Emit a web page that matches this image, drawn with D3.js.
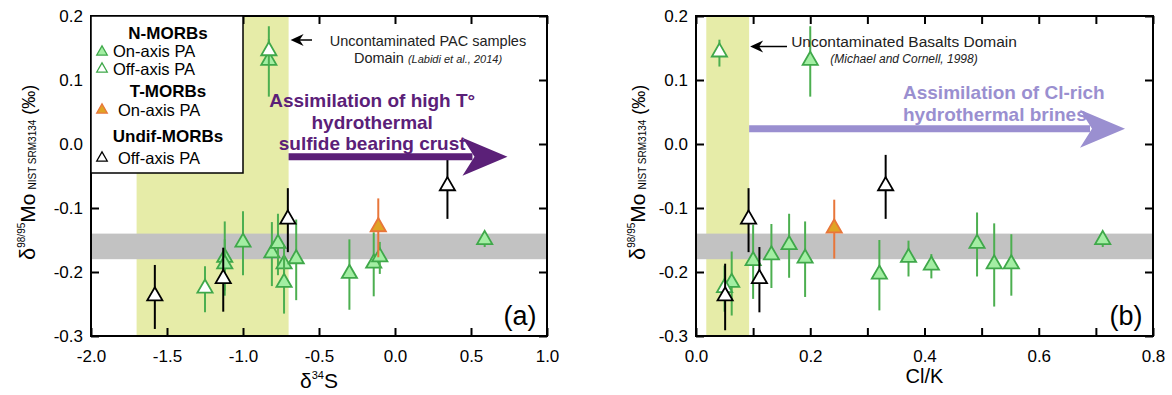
<!DOCTYPE html>
<html>
<head>
<meta charset="utf-8">
<script src="https://cdn.jsdelivr.net/npm/d3@7"></script>
<style>
  body { margin: 0; background: #fff; }
  svg { display: block; }
</style>
</head>
<body>
<svg id="chart" width="1172" height="395"></svg>
<script>
// values: [x, delta Mo, error]
// panel (a): d34S
var aNOn = [[-0.83, 0.129, 0.055], [-1.12, -0.179, 0.058], [-1.12, -0.189, 0.04], [-1.00, -0.155, 0.05],
            [-0.81, -0.172, 0.05], [-0.77, -0.157, 0.048], [-0.73, -0.189, 0.03], [-0.73, -0.218, 0.047],
            [-0.65, -0.181, 0.063], [-0.30, -0.204, 0.055], [-0.14, -0.188, 0.05], [-0.10, -0.178, 0.025],
            [0.59, -0.151, 0.01]];
var aNOff = [[-0.83, 0.144, 0.02], [-1.25, -0.227, 0.036]];
var aTOn = [[-0.11, -0.131, 0.046]];
var aUOff = [[-1.58, -0.239, 0.05], [-1.13, -0.212, 0.05], [-0.705, -0.119, 0.05], [0.345, -0.067, 0.05]];

// panel (b): Cl/K
var bNOn = [[0.20, 0.129, 0.055], [0.0625, -0.218, 0.05], [0.10, -0.184, 0.058], [0.132, -0.175, 0.05],
            [0.163, -0.159, 0.05], [0.191, -0.180, 0.059], [0.321, -0.205, 0.055], [0.372, -0.179, 0.028],
            [0.412, -0.191, 0.019], [0.492, -0.157, 0.05], [0.522, -0.189, 0.065], [0.552, -0.189, 0.048],
            [0.712, -0.151, 0.01]];
var bNOff = [[0.041, 0.142, 0.021], [0.05, -0.226, 0.036]];
var bTOn = [[0.242, -0.133, 0.046]];
var bUOff = [[0.051, -0.239, 0.052], [0.092, -0.119, 0.05], [0.111, -0.212, 0.051], [0.332, -0.067, 0.05]];

var yTicks = [-0.3, -0.2, -0.1, 0.0, 0.1, 0.2];
var aXTicks = [-2.0, -1.5, -1.0, -0.5, 0.0, 0.5, 1.0];
var bXTicks = [0.0, 0.1, 0.2, 0.3, 0.4, 0.5, 0.6, 0.7, 0.8];
var refBand = [-0.18, -0.14];       // grey band
var aDomainBand = [-1.7, -0.7];     // uncontaminated PAC domain
var bDomainBand = [0.018, 0.093];   // uncontaminated basalts domain

var F = "'Liberation Sans', Arial, sans-serif";
var svg = d3.select("#chart");

var styles = {
  nOn:  { fill: "#a3eea3", stroke: "#3fa84a", bar: "#4caf50" },
  nOff: { fill: "#ffffff", stroke: "#3fa84a", bar: "#4caf50" },
  tOn:  { fill: "#e0a424", stroke: "#e8763a", bar: "#e8763a" },
  uOff: { fill: "#ffffff", stroke: "#000000", bar: "#000000" }
};

var tri = d3.symbol().type(d3.symbolTriangle).size(100);
var triSmall = d3.symbol().type(d3.symbolTriangle).size(48);

function drawPanel(opt) {
  var x = d3.scaleLinear().domain(opt.xDomain).range([opt.left, opt.right]);
  var y = d3.scaleLinear().domain([-0.3, 0.2]).range([336, 16]);
  var g = svg.append("g");

  // shaded domain and reference band
  g.append("rect")
    .attr("x", x(opt.band[0])).attr("y", y(0.2))
    .attr("width", x(opt.band[1]) - x(opt.band[0])).attr("height", y(-0.3) - y(0.2))
    .attr("fill", "#e6eca8");
  g.append("rect")
    .attr("x", x.range()[0]).attr("y", y(refBand[1]))
    .attr("width", x.range()[1] - x.range()[0]).attr("height", y(refBand[0]) - y(refBand[1]))
    .attr("fill", "#c2c2c2");

  // axes, ticks pointing inward
  var fmt = function(d) { return d.toFixed(1); };
  var xb = g.append("g").attr("transform", "translate(0,336)")
    .call(d3.axisBottom(x).tickValues(opt.xTicks).tickSize(-8).tickPadding(14).tickFormat(opt.xFmt || fmt));
  var xt = g.append("g").attr("transform", "translate(0,16)")
    .call(d3.axisTop(x).tickValues(opt.xTicks).tickSize(-8).tickFormat(""));
  var yl = g.append("g").attr("transform", "translate(" + opt.left + ",0)")
    .call(d3.axisLeft(y).tickValues(yTicks).tickSize(-8).tickPadding(8).tickFormat(fmt));
  var yr = g.append("g").attr("transform", "translate(" + opt.right + ",0)")
    .call(d3.axisRight(y).tickValues(yTicks).tickSize(-8).tickFormat(""));
  [xb, xt, yl, yr].forEach(function(a) {
    a.select(".domain").remove();
    a.selectAll(".tick line").attr("stroke", "#000").attr("stroke-width", 2);
    a.selectAll(".tick text").attr("font-family", F).attr("font-size", 17).attr("fill", "#000");
  });
  g.append("rect")
    .attr("x", opt.left).attr("y", 16)
    .attr("width", opt.right - opt.left).attr("height", 320)
    .attr("fill", "none").attr("stroke", "#000").attr("stroke-width", 2);

  // data: error bar then triangle for each point
  opt.series.forEach(function(s) {
    var st = styles[s.key];
    s.data.forEach(function(d) {
      g.append("line")
        .attr("x1", x(d[0])).attr("x2", x(d[0]))
        .attr("y1", y(d[1] + d[2])).attr("y2", y(d[1] - d[2]))
        .attr("stroke", st.bar).attr("stroke-width", 2);
      g.append("path")
        .attr("d", tri)
        .attr("transform", "translate(" + x(d[0]) + "," + (y(d[1]) - 1) + ")")
        .attr("fill", st.fill).attr("stroke", st.stroke).attr("stroke-width", 1.8);
    });
  });

  // y label
  var t = svg.append("text")
    .attr("transform", "translate(" + opt.yLabelX + ",260) rotate(-90)")
    .attr("font-family", F).attr("fill", "#000");
  t.append("tspan").attr("font-size", 22).text("δ");
  t.append("tspan").attr("font-size", 10).attr("dy", -10).text("98/95");
  t.append("tspan").attr("font-size", 21).attr("dy", 10).text("Mo");
  t.append("tspan").attr("font-size", 10).attr("dy", 1).attr("dx", 4).text("NIST SRM3134");
  t.append("tspan").attr("font-size", 18).attr("dy", -1).attr("dx", 5).text("(‰)");

  // panel letter
  g.append("text")
    .attr("x", opt.right - 27).attr("y", 325)
    .attr("text-anchor", "middle").attr("font-family", F).attr("font-size", 27)
    .text(opt.letter);

  return { x: x, y: y, g: g };
}

function leftArrow(g, tipX, tipY, tailX) {
  g.append("line").attr("x1", tipX + 6).attr("x2", tailX).attr("y1", tipY).attr("y2", tipY)
    .attr("stroke", "#000").attr("stroke-width", 1.5);
  g.append("path")
    .attr("d", "M" + tipX + "," + tipY + " L" + (tipX + 13) + "," + (tipY - 6) +
               " L" + (tipX + 9) + "," + tipY + " L" + (tipX + 13) + "," + (tipY + 6) + "Z")
    .attr("fill", "#000");
}

function bigArrow(g, x0, tipX, yy, color) {
  g.append("line").attr("x1", x0).attr("x2", tipX - 35).attr("y1", yy).attr("y2", yy)
    .attr("stroke", color).attr("stroke-width", 7);
  g.append("path")
    .attr("d", "M" + tipX + "," + yy + " L" + (tipX - 45) + "," + (yy - 19) +
               " L" + (tipX - 33) + "," + yy + " L" + (tipX - 45) + "," + (yy + 19) + "Z")
    .attr("fill", color);
}

// ---------- panel (a)
var pa = drawPanel({
  left: 91, right: 547, xDomain: [-2.0, 1.0], xTicks: aXTicks, band: aDomainBand,
  series: [{ key: "nOn", data: aNOn }, { key: "nOff", data: aNOff }, { key: "tOn", data: aTOn }, { key: "uOff", data: aUOff }],
  yLabelX: 35, letter: "(a)"
});

svg.append("text")
  .attr("x", pa.x(-0.5)).attr("y", 388)
  .attr("text-anchor", "middle").attr("font-family", F)
  .call(function(t) {
    t.append("tspan").attr("font-size", 21).text("δ");
    t.append("tspan").attr("font-size", 11).attr("dy", -9).text("34");
    t.append("tspan").attr("font-size", 21).attr("dy", 9).text("S");
  });

// purple arrow + text
bigArrow(pa.g, pa.x(aDomainBand[1]), pa.x(0.74), pa.y(-0.02), "#5b2078");
pa.g.append("text")
  .attr("text-anchor", "middle").attr("font-family", F).attr("font-weight", "bold")
  .attr("font-size", 19).attr("fill", "#5b2078")
  .selectAll("tspan").data(["Assimilation of high T°", "hydrothermal", "sulfide bearing crust"])
  .join("tspan")
  .attr("x", pa.x(-0.15)).attr("y", function(d, i) { return 107 + i * 21.5; })
  .text(function(d) { return d; });

// domain annotation
leftArrow(pa.g, pa.x(aDomainBand[1]) + 2, 40, 312);
var ta = pa.g.append("text").attr("text-anchor", "middle").attr("font-family", F).attr("fill", "#222");
ta.append("tspan").attr("x", 428).attr("y", 46).attr("font-size", 14.5).text("Uncontaminated PAC samples");
var ta2 = pa.g.append("text").attr("text-anchor", "middle").attr("font-family", F).attr("fill", "#222")
  .attr("x", 428).attr("y", 63);
ta2.append("tspan").attr("font-size", 14.5).text("Domain ");
ta2.append("tspan").attr("font-size", 11).attr("font-style", "italic").text("(Labidi et al., 2014)");

// legend
var lg = pa.g.append("g");
lg.append("rect").attr("x", 91).attr("y", 16).attr("width", 152).attr("height", 157)
  .attr("fill", "#fff").attr("stroke", "#000").attr("stroke-width", 1.5);
var legendRows = [
  { type: "head", text: "N-MORBs", y: 39 },
  { type: "item", key: "nOn", text: "On-axis PA", y: 57, ty: 52, tx: 113 },
  { type: "item", key: "nOff", text: "Off-axis PA", y: 75, ty: 69, tx: 113 },
  { type: "head", text: "T-MORBs", y: 97 },
  { type: "item", key: "tOn", text: "On-axis PA", y: 116, ty: 110, tx: 118 },
  { type: "head", text: "Undif-MORBs", y: 142 },
  { type: "item", key: "uOff", text: "Off-axis PA", y: 164, ty: 158, tx: 118 }
];
legendRows.forEach(function(r) {
  if (r.type === "head") {
    lg.append("text").attr("x", 168).attr("y", r.y).attr("text-anchor", "middle")
      .attr("font-family", F).attr("font-weight", "bold").attr("font-size", 17).text(r.text);
  } else {
    var st = styles[r.key];
    lg.append("path").attr("d", triSmall).attr("transform", "translate(102," + r.ty + ")")
      .attr("fill", st.fill).attr("stroke", st.stroke).attr("stroke-width", 1.3);
    lg.append("text").attr("x", r.tx).attr("y", r.y)
      .attr("font-family", F).attr("font-size", 16.5).text(r.text);
  }
});

// ---------- panel (b)
var pb = drawPanel({
  left: 696, right: 1153, xDomain: [0.0, 0.8], xTicks: bXTicks, band: bDomainBand,
  xFmt: function(d) { return Math.round(d * 10) % 2 === 0 ? d.toFixed(1) : ""; },
  series: [{ key: "nOn", data: bNOn }, { key: "nOff", data: bNOff }, { key: "tOn", data: bTOn }, { key: "uOff", data: bUOff }],
  yLabelX: 645, letter: "(b)"
});

svg.append("text")
  .attr("x", pb.x(0.4)).attr("y", 383)
  .attr("text-anchor", "middle").attr("font-family", F).attr("font-size", 20)
  .text("Cl/K");

bigArrow(pb.g, pb.x(bDomainBand[1]), pb.x(0.751), pb.y(0.024), "#9a8fd0");
pb.g.append("text")
  .attr("font-family", F).attr("font-weight", "bold").attr("font-size", 19).attr("fill", "#9a8fd0")
  .selectAll("tspan").data(["Assimilation of Cl-rich", "hydrothermal brines"])
  .join("tspan")
  .attr("x", 903).attr("y", function(d, i) { return 99 + i * 21.5; })
  .text(function(d) { return d; });

leftArrow(pb.g, pb.x(bDomainBand[1]) + 1, 46.5, 787);
pb.g.append("text").attr("x", 904).attr("y", 47).attr("text-anchor", "middle")
  .attr("font-family", F).attr("font-size", 15.5).attr("fill", "#222")
  .text("Uncontaminated Basalts Domain");
pb.g.append("text").attr("x", 904).attr("y", 63).attr("text-anchor", "middle")
  .attr("font-family", F).attr("font-size", 12).attr("font-style", "italic").attr("fill", "#222")
  .text("(Michael and Cornell, 1998)");
</script>
</body>
</html>
